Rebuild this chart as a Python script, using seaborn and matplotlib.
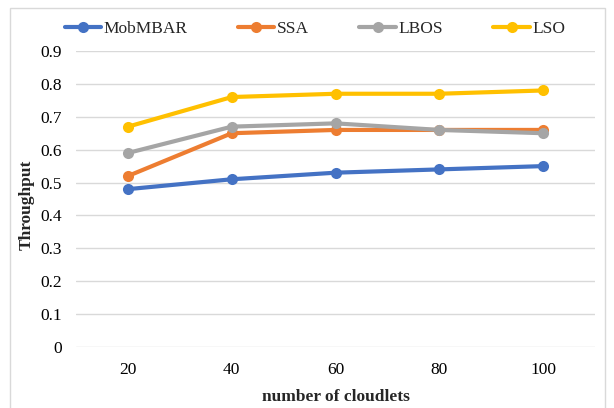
import matplotlib
matplotlib.use("Agg")
import matplotlib.pyplot as plt
import seaborn as sns
import pandas as pd
from matplotlib.patches import Rectangle

cloudlets = ["20", "40", "60", "80", "100"]
mobmbar = [0.48, 0.51, 0.53, 0.54, 0.55]
ssa = [0.52, 0.65, 0.66, 0.66, 0.66]
lbos = [0.59, 0.67, 0.68, 0.66, 0.65]
lso = [0.67, 0.76, 0.77, 0.77, 0.78]
series_names = ["MobMBAR", "SSA", "LBOS", "LSO"]
y_ticks = [0, 0.1, 0.2, 0.3, 0.4, 0.5, 0.6, 0.7, 0.8, 0.9]

palette = ["#4472C4", "#ED7D31", "#A5A5A5", "#FFC000"]

rows = []
for name, vals in zip(series_names, [mobmbar, ssa, lbos, lso]):
    for c, v in zip(cloudlets, vals):
        rows.append({"cloudlets": c, "throughput": v, "series": name})
df = pd.DataFrame(rows)

sns.set_theme(style="white")
plt.rcParams["font.family"] = ["Liberation Serif", "DejaVu Serif"]

fs = 12.5
fig = plt.figure(figsize=(6.14, 4.08), dpi=100)
ax = fig.add_axes([0.124, 0.1495, 0.845, 0.7255])

sns.lineplot(data=df, x="cloudlets", y="throughput", hue="series",
             hue_order=series_names, palette=palette, marker="o",
             markersize=8, markeredgewidth=0, linewidth=3, ax=ax,
             sort=False)

ax.set_ylim(0, 0.9)
ax.set_xlim(-0.5, 4.5)
ax.set_yticks(y_ticks)
ax.set_yticklabels(["0" if t == 0 else f"{t:.1f}" for t in y_ticks])
ax.yaxis.grid(True, color="#D9D9D9", linewidth=1)
ax.xaxis.grid(False)
ax.set_axisbelow(True)
for s in ax.spines.values():
    s.set_visible(False)
ax.tick_params(axis="both", length=0, labelsize=fs, colors="#000000")
ax.tick_params(axis="x", pad=11)
ax.tick_params(axis="y", pad=10)

ax.set_xlabel("number of cloudlets", fontsize=fs, fontweight="bold", labelpad=8)
ax.set_ylabel("Throughput", fontsize=fs, fontweight="bold")
ax.yaxis.set_label_coords(-0.08, 0.48)

handles, labels = ax.get_legend_handles_labels()
leg = fig.legend(handles, labels, loc="center", bbox_to_anchor=(0.513, 0.928),
                 ncol=4, frameon=False, fontsize=fs, handlelength=2.1,
                 columnspacing=2.9, handletextpad=0.15)
ax.get_legend().remove()

fig.patches.append(Rectangle((0.016, -0.02), 0.97, 1.0, transform=fig.transFigure,
                             fill=False, edgecolor="#D9D9D9", linewidth=1))

fig.savefig("out.png", dpi=100)
